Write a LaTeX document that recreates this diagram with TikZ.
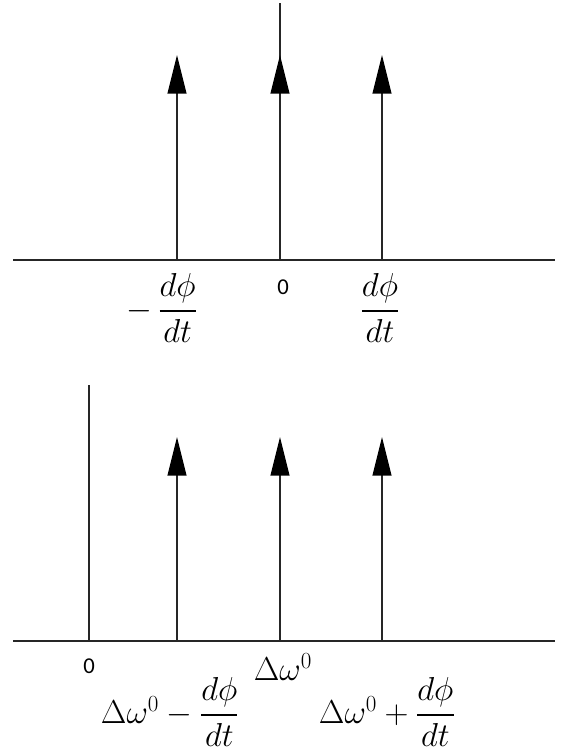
\documentclass[tikz,border=0pt]{standalone}
\usepackage{amsmath}
\usepackage{fontspec}
\newfontfamily\zerofont{Carlito}
\usetikzlibrary{arrows.meta}
\tikzset{
  axisline/.style={line width=1.5pt, draw=black!85},
  spike/.style={line width=1.5pt, draw=black!85, -{Triangle[length=29pt,width=14pt,color=black]}},
  plainline/.style={line width=1.5pt, draw=black!85},
  lbl/.style={inner sep=0pt, font=\fontsize{23}{27}\selectfont},
  zlbl/.style={inner sep=0pt, font=\fontsize{17}{20}\selectfont\zerofont}
}
\begin{document}
\begin{tikzpicture}[x=0.75pt,y=-0.75pt]
\useasboundingbox (0,0) rectangle (564,752);
% top plot
\coordinate (L1) at (13,260);
\coordinate (R1) at (555,260);
\draw[axisline] (L1) -- (R1);
\coordinate (b11) at (177,260); \coordinate (t11) at (177,55);
\coordinate (b12) at (280,260); \coordinate (t12) at (280,55);
\coordinate (b13) at (382,260); \coordinate (t13) at (382,55);
\coordinate (top12) at (280,3);
\draw[plainline] (b12) -- (top12);
\draw[spike] (b11) -- (t11);
\draw[spike] (b12) -- (t12);
\draw[spike] (b13) -- (t13);
\node[lbl] (m1) at (162,308) {$-\,\dfrac{d\phi}{dt}$};
\node[zlbl] (z1) at (283,287) {0};
\node[lbl] (p1) at (380,308) {$\dfrac{d\phi}{dt}$};
% bottom plot
\coordinate (L2) at (13,641);
\coordinate (R2) at (555,641);
\draw[axisline] (L2) -- (R2);
\coordinate (b20) at (89,641); \coordinate (t20) at (89,385);
\draw[plainline] (b20) -- (t20);
\coordinate (b21) at (177,641); \coordinate (t21) at (177,437);
\coordinate (b22) at (280,641); \coordinate (t22) at (280,437);
\coordinate (b23) at (382,641); \coordinate (t23) at (382,437);
\draw[spike] (b21) -- (t21);
\draw[spike] (b22) -- (t22);
\draw[spike] (b23) -- (t23);
\node[zlbl] (z2) at (89,666) {0};
\node[lbl] (d0) at (283,667) {$\Delta\omega^0$};
\node[lbl] (m2) at (170,712) {$\Delta\omega^0-\dfrac{d\phi}{dt}$};
\node[lbl] (p2) at (387,712) {$\Delta\omega^0+\dfrac{d\phi}{dt}$};
\end{tikzpicture}
\end{document}
